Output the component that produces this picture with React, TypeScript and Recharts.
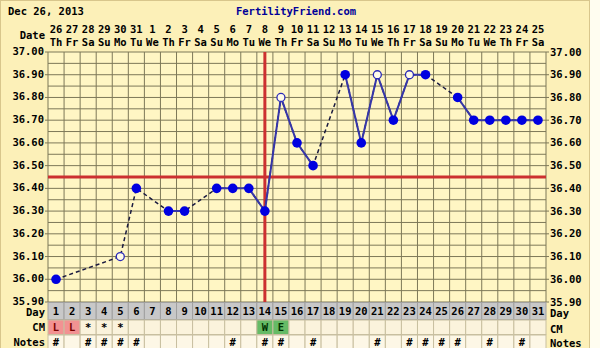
import React from 'react';
import { ComposedChart, Line, XAxis, YAxis, CartesianGrid, ReferenceLine } from 'recharts';

// ---- data ----
const cycleDays = [1, 2, 3, 4, 5, 6, 7, 8, 9, 10, 11, 12, 13, 14, 15, 16, 17, 18, 19, 20, 21, 22, 23, 24, 25, 26, 27, 28, 29, 30, 31];
const dateLabels = ['26', '27', '28', '29', '30', '31', '1', '2', '3', '4', '5', '6', '7', '8', '9', '10', '11', '12', '13', '14', '15', '16', '17', '18', '19', '20', '21', '22', '23', '24', '25'];
const weekdays = ['Th', 'Fr', 'Sa', 'Su', 'Mo', 'Tu', 'We', 'Th', 'Fr', 'Sa', 'Su', 'Mo', 'Tu', 'We', 'Th', 'Fr', 'Sa', 'Su', 'Mo', 'Tu', 'We', 'Th', 'Fr', 'Sa', 'Su', 'Mo', 'Tu', 'We', 'Th', 'Fr', 'Sa'];
const temps: (number | null)[] = [36.0, null, null, null, 36.1, 36.4, null, 36.3, 36.3, null, 36.4, 36.4, 36.4, 36.3, 36.8, 36.6, 36.5, null, 36.9, 36.6, 36.9, 36.7, 36.9, 36.9, null, 36.8, 36.7, 36.7, 36.7, 36.7, 36.7];
const openDays = [5, 15, 21, 23];
const dashedOnlyDays = [5];
const cmMarks = ['L', 'L', '*', '*', '*', '', '', '', '', '', '', '', '', 'W', 'E', '', '', '', '', '', '', '', '', '', '', '', '', '', '', '', ''];
const notesDays = [1, 3, 4, 5, 6, 12, 14, 15, 17, 21, 23, 24, 25, 26, 28, 30];
const coverline = 36.45;
const ovulationDay = 14;
const tempTicks = [35.9, 36.0, 36.1, 36.2, 36.3, 36.4, 36.5, 36.6, 36.7, 36.8, 36.9, 37.0];
const gridTemps = [35.9, 35.95, 36.0, 36.05, 36.1, 36.15, 36.2, 36.25, 36.3, 36.35, 36.4, 36.45, 36.5, 36.55, 36.6, 36.65, 36.7, 36.75, 36.8, 36.85, 36.9, 36.95, 37.0];

const data = cycleDays.map((d, k) => ({
  i: d,
  temp: temps[k],
  solid: dashedOnlyDays.includes(d) ? null : temps[k],
}));

// ---- layout / style ----
const W = 600;
const H = 348;
const LEFT_W = 48;
const RIGHT_W = 54;
const TOP_H = 52;
const BOTTOM_H = 46;
const PLOT_W = W - LEFT_W - RIGHT_W;
const COL_W = PLOT_W / cycleDays.length;
const FONT = '"DejaVu Sans Mono", "Liberation Mono", monospace';
const GRID = '#7d7858';
const PLOT_BG = '#fff6c4';
const RED = '#cc3030';
const DOT = '#0000e0';

const verticalBounds = [0, ...cycleDays].map((d) => d + 0.5);

const txt = { fontFamily: FONT, fontSize: 10.5, fontWeight: 700, fill: '#000' } as const;

const TopTick = (props: any) => {
  const { x, y, payload } = props;
  const k = cycleDays.indexOf(payload.value);
  return (
    <g>
      {payload.value === 1 && (
        <text x={x - COL_W / 2 - 3} y={y - 13} textAnchor="end" {...txt}>Date</text>
      )}
      <text x={x} y={y - 19} textAnchor="middle" {...txt}>{dateLabels[k]}</text>
      <text x={x} y={y - 6.5} textAnchor="middle" {...txt}>{weekdays[k]}</text>
    </g>
  );
};

const BottomTick = (props: any) => {
  const { x, y, payload } = props;
  const d = payload.value;
  const k = cycleDays.indexOf(d);
  const cm = cmMarks[k];
  const left = x - COL_W / 2;
  const cmFill = cm === 'L' ? '#f29292' : cm === 'W' || cm === 'E' ? '#66bb66' : '#fbf3dc';
  const cmText = cm === 'L' ? '#7a0000' : cm === 'W' || cm === 'E' ? '#003300' : '#000';
  return (
    <g>
      <rect x={left} y={y + 0.5} width={COL_W} height={17} fill="#c8c8c8" stroke="#a0a0a0" strokeWidth={1} />
      <text x={x} y={y + 13} textAnchor="middle" {...txt}>{d}</text>
      <rect x={left} y={y + 18} width={COL_W} height={14.5} fill={cmFill} stroke="#c8bfa0" strokeWidth={1} />
      {cm && <text x={x} y={y + 29} textAnchor="middle" {...txt} fill={cmText}>{cm}</text>}
      <rect x={left} y={y + 33} width={COL_W} height={14} fill="#fdf7e6" stroke="#c8bfa0" strokeWidth={1} />
      {notesDays.includes(d) && <text x={x} y={y + 43.5} textAnchor="middle" {...txt}>#</text>}
      {d === 1 && (
        <g>
          <text x={left - 3} y={y + 14} textAnchor="end" {...txt}>Day</text>
          <text x={left - 3} y={y + 29} textAnchor="end" {...txt}>CM</text>
          <text x={left - 3} y={y + 43.5} textAnchor="end" {...txt}>Notes</text>
        </g>
      )}
      {d === cycleDays[cycleDays.length - 1] && (
        <g>
          <text x={left + COL_W + 4} y={y + 15} textAnchor="start" {...txt}>Day</text>
          <text x={left + COL_W + 4} y={y + 31} textAnchor="start" {...txt}>CM</text>
          <text x={left + COL_W + 4} y={y + 45} textAnchor="start" {...txt}>Notes</text>
        </g>
      )}
    </g>
  );
};

const LeftTick = (props: any) => {
  const { x, y, payload } = props;
  return <text x={x} y={y + 3} textAnchor="end" {...txt}>{Number(payload.value).toFixed(2)}</text>;
};
const RightTick = (props: any) => {
  const { x, y, payload } = props;
  return <text x={x} y={y + 3.5} textAnchor="start" {...txt}>{Number(payload.value).toFixed(2)}</text>;
};

const renderDot = (props: any) => {
  const { cx, cy, payload, index } = props;
  if (payload == null || payload.temp == null || cy == null || isNaN(cy)) return <g key={`d${index}`} />;
  if (openDays.includes(payload.i)) {
    return <circle key={`d${index}`} cx={cx} cy={cy} r={4} fill="#fffbe8" stroke="#2a2ab8" strokeWidth={1.3} />;
  }
  return <circle key={`d${index}`} cx={cx} cy={cy} r={4.8} fill={DOT} stroke="none" />;
};

export default function App() {
  return (
    <div style={{ position: 'absolute', left: 0, top: 0, width: W, height: H, background: '#fffdf0', overflow: 'hidden' }}>
      <div style={{ position: 'absolute', left: 0, top: 0, width: 588, height: H, background: '#fcf0b8', border: '1px solid #d8c68c', borderBottom: 'none' }} />
      <div style={{ position: 'absolute', left: 8, top: 5, fontFamily: FONT, fontSize: 10.5, fontWeight: 700, color: '#000', whiteSpace: 'nowrap' }}>Dec 26, 2013</div>
      <div style={{ position: 'absolute', left: 0, width: 592, top: 5, textAlign: 'center', fontFamily: FONT, fontSize: 10.5, fontWeight: 700, color: '#000099', whiteSpace: 'nowrap' }}>FertilityFriend.com</div>
      <div style={{ position: 'absolute', left: 0, top: 0 }}>
        <ComposedChart width={W} height={H} data={data} margin={{ top: 0, right: 0, bottom: 0, left: 0 }}>
          <CartesianGrid
            fill={PLOT_BG}
            stroke={GRID}
            strokeWidth={1}
            horizontalValues={gridTemps}
            verticalValues={verticalBounds}
          />
          <XAxis
            dataKey="i"
            type="number"
            domain={[0.5, 31.5]}
            ticks={cycleDays}
            interval={0}
            height={BOTTOM_H}
            axisLine={false}
            tickLine={false}
            tickSize={0}
            tickMargin={0}
            tick={(p: any) => <BottomTick {...p} />}
            allowDataOverflow
          />
          <XAxis
            xAxisId="top"
            dataKey="i"
            type="number"
            orientation="top"
            domain={[0.5, 31.5]}
            ticks={cycleDays}
            interval={0}
            height={TOP_H}
            axisLine={false}
            tickLine={false}
            tickSize={0}
            tickMargin={0}
            tick={(p: any) => <TopTick {...p} />}
            allowDataOverflow
          />
          <YAxis
            type="number"
            domain={[35.9, 37.0]}
            ticks={tempTicks}
            interval={0}
            width={LEFT_W}
            axisLine={false}
            tickSize={3}
            tickMargin={1}
            tickLine={{ stroke: GRID }}
            tick={(p: any) => <LeftTick {...p} />}
            allowDataOverflow
          />
          <YAxis
            yAxisId="right"
            orientation="right"
            type="number"
            domain={[35.9, 37.0]}
            ticks={tempTicks}
            interval={0}
            width={RIGHT_W}
            axisLine={false}
            tickSize={3}
            tickMargin={1}
            tickLine={{ stroke: GRID }}
            tick={(p: any) => <RightTick {...p} />}
            allowDataOverflow
          />
          <ReferenceLine x={ovulationDay} stroke={RED} strokeWidth={3} />
          <ReferenceLine y={coverline} stroke={RED} strokeWidth={3} />
          <Line
            dataKey="temp"
            connectNulls
            stroke="#1a1a40"
            strokeWidth={1.5}
            strokeDasharray="4 3"
            dot={false}
            activeDot={false}
            isAnimationActive={false}
          />
          <Line
            dataKey="solid"
            connectNulls={false}
            stroke="#3636a8"
            strokeWidth={2}
            dot={false}
            activeDot={false}
            isAnimationActive={false}
          />
          <Line
            dataKey="temp"
            stroke="none"
            connectNulls={false}
            dot={renderDot}
            activeDot={false}
            isAnimationActive={false}
          />
        </ComposedChart>
      </div>
    </div>
  );
}
